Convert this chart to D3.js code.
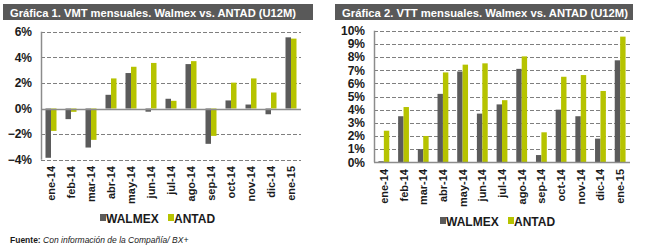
<!DOCTYPE html>
<html>
<head>
<meta charset="utf-8">
<script src="https://cdn.jsdelivr.net/npm/d3@7"></script>
<style>
  body { margin: 0; background: #fff; }
  svg { display: block; font-family: Arial, "Liberation Sans", sans-serif; }
  .grid line { stroke: #7f7f7f; stroke-dasharray: 4,2; shape-rendering: crispEdges; }
  .tick-y { font-size: 12px; font-weight: bold; fill: #1a1a1a; }
  .tick-x { font-size: 11px; font-weight: bold; fill: #1a1a1a; }
  .legend { font-size: 12px; font-weight: bold; fill: #1a1a1a; }
</style>
</head>
<body>
<svg id="chart" width="645" height="251"></svg>
<script>
(function() {
  'use strict';

  var months = ['ene-14', 'feb-14', 'mar-14', 'abr-14', 'may-14', 'jun-14', 'jul-14',
    'ago-14', 'sep-14', 'oct-14', 'nov-14', 'dic-14', 'ene-15'];
  var seriesNames = ['WALMEX', 'ANTAD'];

  // Grafica 1: VMT (mismas tiendas)
  var vmtWalmex = [-3.85, -0.83, -3.05, 1.07, 2.77, -0.25, 0.76, 3.47, -2.76, 0.63, 0.31, -0.45, 5.56];
  var vmtAntad = [-1.75, -0.26, -2.45, 2.35, 3.26, 3.56, 0.6, 3.7, -2.14, 2.02, 2.35, 1.25, 5.46];
  var vmtTicks = [-4, -2, 0, 2, 4, 6];

  // Grafica 2: VTT (tiendas totales)
  var vttWalmex = [0.08, 3.5, 1.0, 5.2, 6.9, 3.7, 4.4, 7.1, 0.55, 4.0, 3.5, 1.8, 7.75];
  var vttAntad = [2.4, 4.2, 2.0, 6.83, 7.42, 7.52, 4.72, 8.05, 2.28, 6.5, 6.63, 5.42, 9.55];
  var vttTicks = [0, 1, 2, 3, 4, 5, 6, 7, 8, 9, 10];

  var colors = { WALMEX: '#5b5b5b', ANTAD: '#b6c300' };

  var svg = d3.select('#chart');

  function drawChart(cfg) {
    var g = svg.append('g');

    // title bar
    g.append('rect')
      .attr('x', cfg.title.x).attr('y', 4)
      .attr('width', cfg.title.w).attr('height', 16)
      .attr('fill', '#595959');
    g.append('text')
      .attr('x', cfg.title.x + 7).attr('y', 16.5)
      .attr('fill', '#fff')
      .attr('textLength', 286).attr('lengthAdjust', 'spacingAndGlyphs')
      .style('font-size', '11.5px').style('font-weight', 'bold')
      .text(cfg.title.text);

    var x0 = d3.scaleBand().domain(months)
      .range([cfg.left, cfg.right])
      .paddingInner(0.45).paddingOuter(0.225);
    var x1 = d3.scaleBand().domain(seriesNames).range([0, x0.bandwidth()]);
    var y = d3.scaleLinear().domain(cfg.domain).range([cfg.bottom, cfg.top]);

    // gridlines
    g.append('g').attr('class', 'grid')
      .selectAll('line')
      .data(cfg.ticks.filter(function(t) { return t !== 0; }))
      .join('line')
      .attr('x1', cfg.left).attr('x2', cfg.right)
      .attr('y1', function(d) { return Math.round(y(d)) + 0.5; })
      .attr('y2', function(d) { return Math.round(y(d)) + 0.5; });

    // y tick labels
    g.append('g').selectAll('text')
      .data(cfg.ticks)
      .join('text')
      .attr('class', 'tick-y')
      .attr('x', cfg.left - 9)
      .attr('y', function(d) { return y(d); })
      .attr('dy', '0.36em')
      .attr('text-anchor', 'end')
      .text(function(d) { return d3.format('d')(d) + '%'; });

    // bars
    var rows = months.map(function(m, i) {
      return { month: m, values: [
        { key: 'WALMEX', v: cfg.walmex[i] },
        { key: 'ANTAD', v: cfg.antad[i] }
      ] };
    });
    g.append('g').selectAll('g')
      .data(rows)
      .join('g')
      .attr('transform', function(d) { return 'translate(' + x0(d.month) + ',0)'; })
      .selectAll('rect')
      .data(function(d) { return d.values; })
      .join('rect')
      .attr('x', function(d) { return x1(d.key); })
      .attr('width', x1.bandwidth())
      .attr('y', function(d) { return y(Math.max(0, d.v)); })
      .attr('height', function(d) { return Math.abs(y(d.v) - y(0)); })
      .attr('fill', function(d) { return colors[d.key]; });

    // axes lines
    g.append('line')
      .attr('x1', cfg.left + 0.5).attr('x2', cfg.left + 0.5)
      .attr('y1', y(cfg.domain[1])).attr('y2', y(cfg.domain[0]))
      .attr('stroke', '#8c8c8c').attr('stroke-width', 1.5);
    g.append('line')
      .attr('x1', cfg.left).attr('x2', cfg.right)
      .attr('y1', Math.round(y(0)) + 0.5).attr('y2', Math.round(y(0)) + 0.5)
      .attr('stroke', '#8c8c8c').attr('stroke-width', 1.5);

    // x labels
    g.append('g').selectAll('text')
      .data(months)
      .join('text')
      .attr('class', 'tick-x')
      .attr('transform', function(d) {
        return 'translate(' + (x0(d) + x0.bandwidth() / 2 + 4) + ',' + cfg.labelTop + ') rotate(-90)';
      })
      .attr('text-anchor', 'end')
      .text(function(d) { return d; });

    // legend
    var lg = g.append('g').attr('transform', 'translate(' + cfg.legend[0] + ',' + cfg.legend[1] + ')');
    var offs = [0, 68];
    seriesNames.forEach(function(s, i) {
      lg.append('rect').attr('x', offs[i]).attr('y', -4).attr('width', 6).attr('height', 7)
        .attr('fill', colors[s]);
      lg.append('text').attr('class', 'legend')
        .attr('x', offs[i] + 6).attr('y', 4.5)
        .text(s);
    });
  }

  drawChart({
    title: { x: 3, w: 310, text: 'Gráfica 1. VMT mensuales. Walmex vs. ANTAD (U12M)' },
    left: 41, right: 301, top: 31.7, bottom: 159.7,
    domain: [-4, 6], ticks: vmtTicks,
    walmex: vmtWalmex, antad: vmtAntad,
    labelTop: 166, legend: [100, 218]
  });

  drawChart({
    title: { x: 335, w: 298, text: 'Gráfica 2. VTT mensuales. Walmex vs. ANTAD (U12M)' },
    left: 374, right: 630, top: 30.7, bottom: 162.3,
    domain: [0, 10], ticks: vttTicks,
    walmex: vttWalmex, antad: vttAntad,
    labelTop: 169, legend: [440, 221]
  });

  // footer
  var ft = svg.append('text').attr('x', 10).attr('y', 243)
    .style('font-size', '8.5px').attr('fill', '#1a1a1a');
  ft.append('tspan').style('font-weight', 'bold').text('Fuente: ');
  ft.append('tspan').style('font-style', 'italic').text('Con información de la Compañía/ BX+');
})();
</script>
</body>
</html>
